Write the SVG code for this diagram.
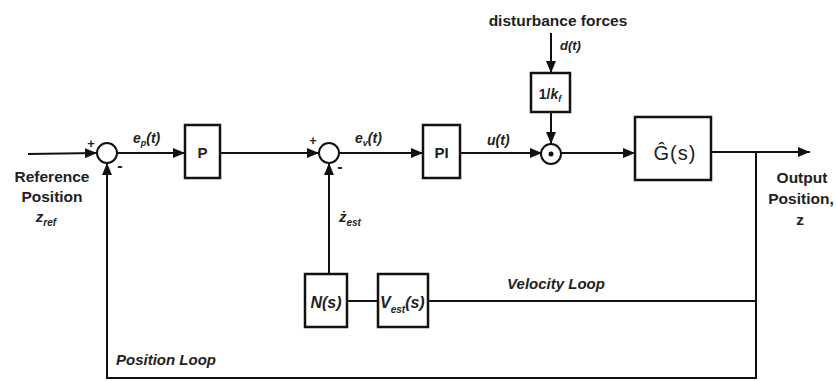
<svg xmlns="http://www.w3.org/2000/svg" width="836" height="381" viewBox="0 0 836 381">
<defs>
<style>
.ln{stroke:#111;stroke-width:2;fill:none}
.bx{stroke:#111;stroke-width:2.5;fill:#fff}
.t{font-family:"Liberation Sans",Arial,sans-serif;font-weight:bold;fill:#222}
.i{font-style:italic}
</style>
<marker id="ah" viewBox="0 0 12 10" refX="12" refY="5" markerWidth="12" markerHeight="10" markerUnits="userSpaceOnUse" orient="auto">
<path d="M0,0 L12,5 L0,10 Z" fill="#111"/>
</marker>
</defs>
<rect width="836" height="381" fill="#fff"/>
<g id="connectors">
<line class="ln" x1="28" y1="154" x2="97" y2="153" marker-end="url(#ah)"/>
<line class="ln" x1="117" y1="153" x2="185" y2="153" marker-end="url(#ah)"/>
<line class="ln" x1="220" y1="153" x2="319" y2="153" marker-end="url(#ah)"/>
<line class="ln" x1="339" y1="153" x2="423" y2="153" marker-end="url(#ah)"/>
<line class="ln" x1="460" y1="153" x2="542" y2="153" marker-end="url(#ah)"/>
<line class="ln" x1="561" y1="153" x2="635" y2="153" marker-end="url(#ah)"/>
<line class="ln" x1="711" y1="152" x2="810" y2="152" marker-end="url(#ah)"/>
<line class="ln" x1="551" y1="33" x2="551" y2="73" marker-end="url(#ah)"/>
<line class="ln" x1="551" y1="112" x2="551" y2="144" marker-end="url(#ah)"/>
<polyline class="ln" points="756,152 756,378 107,378 107,163" marker-end="url(#ah)"/>
<line class="ln" x1="756" y1="301" x2="428" y2="301"/>
<line class="ln" x1="378" y1="301" x2="347" y2="301"/>
<line class="ln" x1="329" y1="274" x2="329" y2="163" marker-end="url(#ah)"/>
</g>
<g id="sum1">
<circle class="ln" cx="107" cy="153" r="10" fill="#fff"/>
<text class="t" x="91" y="148" font-size="13" text-anchor="middle">+</text>
<text class="t" x="120" y="171" font-size="16" text-anchor="middle">-</text>
</g>
<g id="sum2">
<circle class="ln" cx="329" cy="153" r="10" fill="#fff"/>
<text class="t" x="313" y="145" font-size="13" text-anchor="middle">+</text>
<text class="t" x="340" y="172" font-size="16" text-anchor="middle">-</text>
</g>
<g id="sum3">
<circle class="ln" cx="551" cy="154" r="10" fill="#fff"/>
<circle cx="551" cy="154" r="2.5" fill="#111"/>
</g>
<g id="P">
<rect class="bx" x="185" y="125" width="35" height="53"/>
<text class="t" x="202.5" y="158" font-size="15" text-anchor="middle">P</text>
</g>
<g id="PI">
<rect class="bx" x="423" y="125" width="37" height="53"/>
<text class="t" x="441.5" y="158" font-size="15" text-anchor="middle">PI</text>
</g>
<g id="kf">
<rect class="bx" x="531" y="73" width="39" height="39"/>
<text class="t" x="550" y="99" font-size="14" text-anchor="middle">1/<tspan class="i">k</tspan><tspan class="i" font-size="9" dy="3">f</tspan></text>
</g>
<g id="G">
<rect class="bx" x="635" y="117" width="76" height="63"/>
<text x="675" y="160" font-family="'Liberation Sans',Arial,sans-serif" font-size="20" fill="#222" text-anchor="middle" letter-spacing="1">Ĝ(s)</text>
</g>
<g id="N">
<rect class="bx" x="305" y="274" width="42" height="53"/>
<text class="t i" x="326" y="308" font-size="16" text-anchor="middle">N(s)</text>
</g>
<g id="Vest">
<rect class="bx" x="378" y="274" width="50" height="53"/>
<text class="t i" x="380" y="308" font-size="16">V<tspan font-size="10" dy="5">est</tspan><tspan dy="-5">(s)</tspan></text>
</g>
<g id="labels">
<text class="t" x="558" y="26" font-size="15.5" text-anchor="middle">disturbance forces</text>
<text class="t i" x="560" y="50" font-size="13">d(t)</text>
<text class="t i" x="487" y="145" font-size="14">u(t)</text>
<text class="t i" x="133" y="143" font-size="14">e<tspan font-size="9" dy="3">p</tspan><tspan dy="-3">(t)</tspan></text>
<text class="t i" x="355" y="143" font-size="14">e<tspan font-size="9" dy="3">v</tspan><tspan dy="-3">(t)</tspan></text>
<text class="t i" x="339" y="222" font-size="15">ż<tspan font-size="10" dy="4">est</tspan></text>
<text class="t" x="52" y="182" font-size="15.5" text-anchor="middle">Reference</text>
<text class="t" x="52" y="202" font-size="15.5" text-anchor="middle">Position</text>
<text class="t i" x="46" y="222" font-size="15" text-anchor="middle">z<tspan font-size="10" dy="4">ref</tspan></text>
<text class="t" x="802" y="183" font-size="15.5" text-anchor="middle">Output</text>
<text class="t" x="801" y="204" font-size="15.5" text-anchor="middle">Position,</text>
<text class="t" x="800" y="225" font-size="15.5" text-anchor="middle">z</text>
<text class="t i" x="556" y="289" font-size="15" text-anchor="middle">Velocity Loop</text>
<text class="t i" x="116" y="365" font-size="15">Position Loop</text>
</g>
</svg>
